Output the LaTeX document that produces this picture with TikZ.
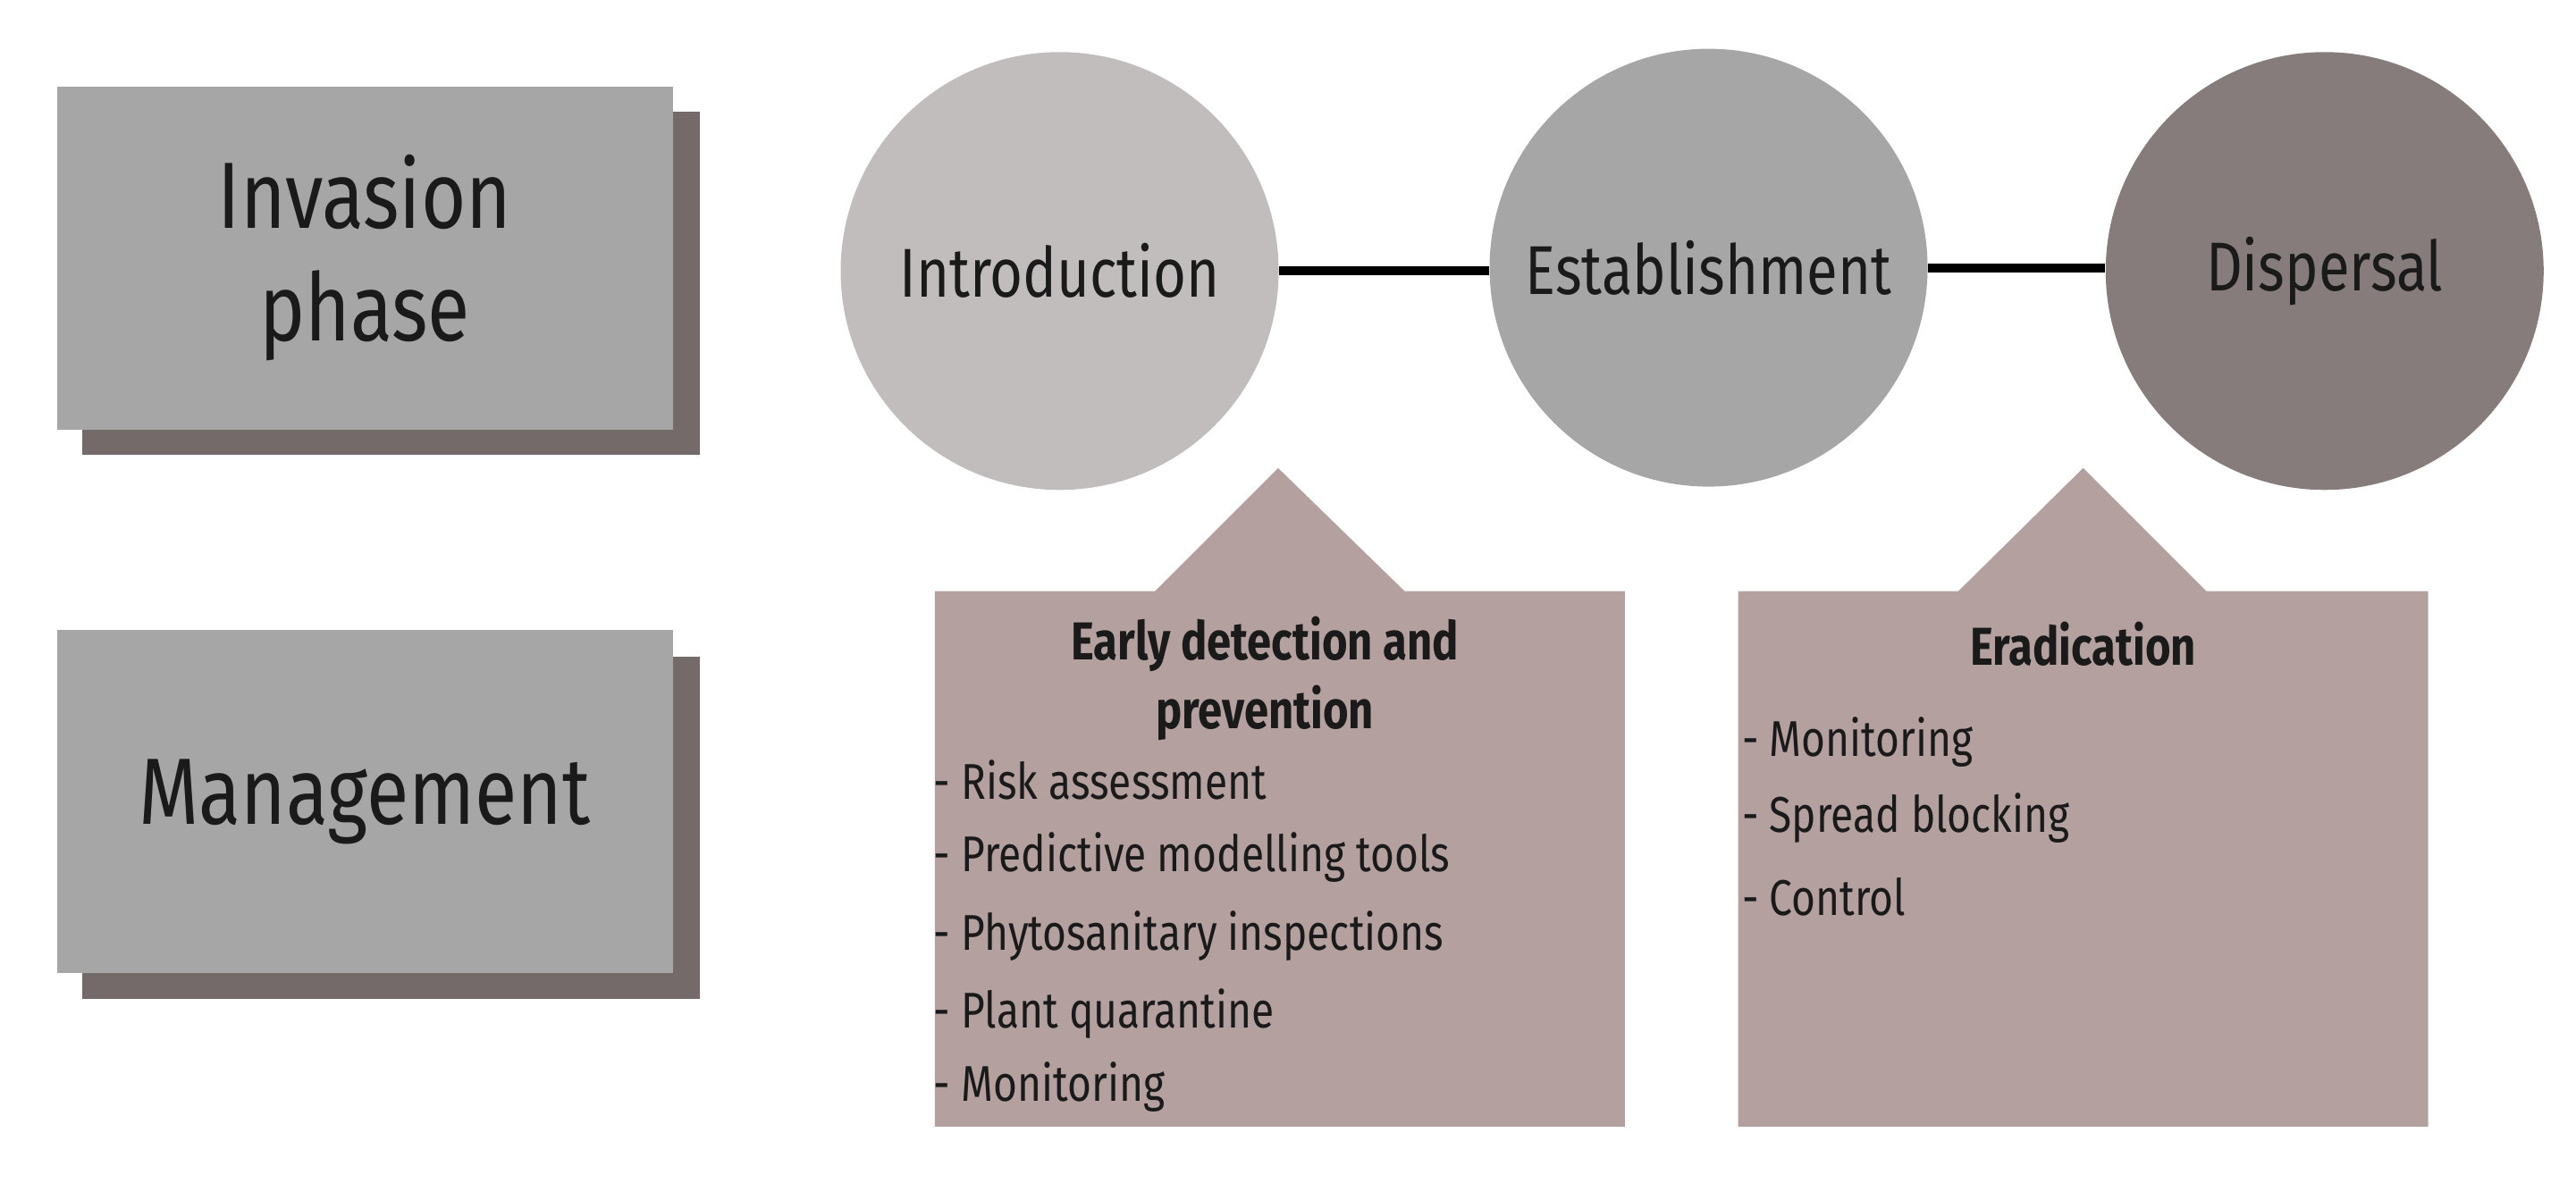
\documentclass[tikz,border=0pt]{standalone}
\usepackage{fontspec}
\setmainfont[FakeStretch=0.82]{Fira Sans}
\usetikzlibrary{positioning}
\definecolor{boxgray}{HTML}{A6A6A6}
\definecolor{shadowgray}{HTML}{756A6A}
\definecolor{introgray}{HTML}{C2BDBD}
\definecolor{dispgray}{HTML}{877C7C}
\definecolor{calloutrose}{HTML}{B5A0A0}
\definecolor{ink}{HTML}{1A1A1A}

\begin{document}
\begin{tikzpicture}[x=0.1838mm, y=-0.1838mm,
  phase/.style={fill=boxgray, minimum width=68.9mm, minimum height=38.4mm,
    align=center, font=\fontsize{30}{36}\selectfont, text=ink, inner sep=0},
  stage/.style={circle, minimum size=49mm, inner sep=0, text=ink,
    font=\fontsize{22}{26}\selectfont},
  callout/.style={fill=calloutrose},
  title/.style={align=center, font=\bfseries\fontsize{17}{22}\selectfont, text=ink},
  item/.style={anchor=west, font=\fontsize{16}{20}\selectfont, text=ink, inner sep=0}]
  \useasboundingbox (0,0) rectangle (1568,720);

  % left boxes
  \fill[shadowgray] (50,68) rectangle (426,277);
  \node[phase] (invasion) at (222,157) {Invasion\\phase};
  \fill[shadowgray] (50,400) rectangle (426,608);
  \node[phase] (management) at (222,488) {Management};

  % stages
  \node[stage, fill=introgray] (intro) at (645,165) {Introduction};
  \node[stage, fill=boxgray] (estab) at (1040,163) {Establishment};
  \node[stage, fill=dispgray] (disp) at (1415,165) {Dispersal};
  \draw[line width=1mm] (intro.east) -- (intro.east -| estab.west);
  \draw[line width=1mm] (estab.east) -- (estab.east -| disp.west);

  % callouts
  \fill[callout] (569,360) -- (703,360) -- (778,285) -- (855,360) -- (989,360)
    -- (989,686) -- (569,686) -- cycle;
  \fill[callout] (1058,360) -- (1192,360) -- (1268,285) -- (1343,360) -- (1478,360)
    -- (1478,686) -- (1058,686) -- cycle;

  \node[title] (early) at (770,413) {Early detection and\\prevention};
  \node[item] (e1) at (568,475) {- Risk assessment};
  \node[item] (e2) at (568,522) {- Predictive modelling tools};
  \node[item] (e3) at (568,570) {- Phytosanitary inspections};
  \node[item] (e4) at (568,617) {- Plant quarantine};
  \node[item] (e5) at (568,662) {- Monitoring};

  \node[title] (erad) at (1268,392) {Eradication};
  \node[item] (r1) at (1060,452) {- Monitoring};
  \node[item] (r2) at (1060,498) {- Spread blocking};
  \node[item] (r3) at (1060,546) {- Control};
\end{tikzpicture}
\end{document}
